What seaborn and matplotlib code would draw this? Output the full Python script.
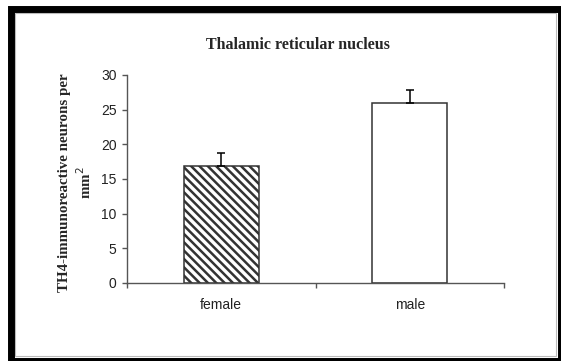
import numpy as np
import pandas as pd
import matplotlib
matplotlib.use("Agg")
import matplotlib.pyplot as plt
from matplotlib.patches import Rectangle
import seaborn as sns

# === Data ===
groups = ["female", "male"]
density = [16.9, 26.0]      # TH4-immunoreactive neurons per mm2
sem = [1.8, 1.9]
y_ticks = [0, 5, 10, 15, 20, 25, 30]

df = pd.DataFrame({"group": groups, "density": density})

sns.set_theme(style="white")
plt.rcParams["font.family"] = ["Liberation Sans", "DejaVu Sans"]
plt.rcParams["hatch.linewidth"] = 1.8
plt.rcParams["hatch.color"] = "black"

fig = plt.figure(figsize=(5.61, 3.61), dpi=100)
ax = fig.add_axes([0.2264, 0.2161, 0.672, 0.5762])

sns.barplot(data=df, x="group", y="density", hue="group", palette=["white", "white"],
            width=0.4, edgecolor="#333333", linewidth=1.1, legend=False, ax=ax)
ax.patches[0].set_hatch("\\\\\\\\")

# upper-only error bars
x = np.arange(len(groups))
ax.errorbar(x, density, yerr=[np.zeros(len(sem)), sem], fmt="none",
            ecolor="black", elinewidth=1.1, capsize=3.2, capthick=1.1)

ax.set_xlim(-0.5, 1.5)
ax.set_ylim(0, 30)
ax.set_yticks(y_ticks)
ax.set_xlabel("")
ax.set_ylabel("")

# axes styling
for s in ["top", "right"]:
    ax.spines[s].set_visible(False)
for s in ["left", "bottom"]:
    ax.spines[s].set_color("#555555")
    ax.spines[s].set_linewidth(1.0)
ax.tick_params(axis="y", which="major", direction="out", length=3.6, width=1.0,
               color="#555555", left=True, labelsize=10, pad=4, labelcolor="#222222")
ax.tick_params(axis="x", which="major", length=0, labelsize=10, pad=11, labelcolor="#222222")
ax.set_xticks([-0.5, 0.5, 1.5], minor=True)
ax.tick_params(axis="x", which="minor", direction="out", length=3.6, width=1.0,
               color="#555555", bottom=True)

fig.text(298 / 561, 1 - 45 / 361, "Thalamic reticular nucleus", ha="center", va="center",
         fontsize=11.5, fontweight="bold", family="Liberation Serif")
fig.text(76 / 561, 1 - 183 / 361, "TH4-immunoreactive neurons per\nmm$^{2}$",
         ha="center", va="center", rotation=90, fontsize=10.8, fontweight="bold",
         family="Liberation Serif", linespacing=1.3)

# outer frame
fig.patches.append(Rectangle((14.5 / 561, 1 - 355.5 / 361), (556 - 14.5) / 561, (355.5 - 12.5) / 361,
                             transform=fig.transFigure, fill=False, edgecolor="#bbbbbb", linewidth=0.8))
fig.patches.append(Rectangle((10.5 / 561, 1 - 360.5 / 361), (560.5 - 10.5) / 561, (360.5 - 8.5) / 361,
                             transform=fig.transFigure, fill=False, edgecolor="black", linewidth=5.0))

fig.savefig("out.png", dpi=100)
